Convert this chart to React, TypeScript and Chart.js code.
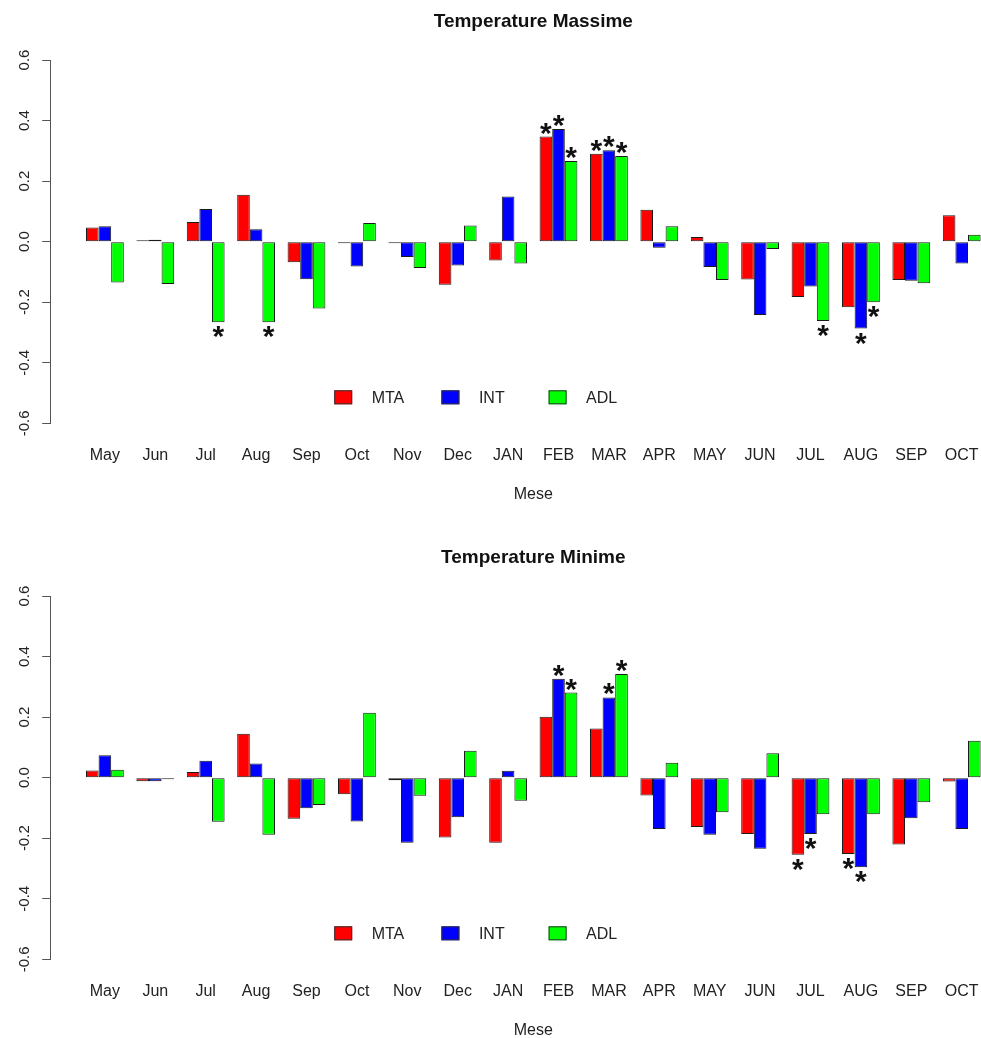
import React, { useEffect, useRef } from "react";
import { Chart, registerables } from "chart.js";

Chart.register(...registerables);

const FONT = '"Liberation Sans", Arial, Helvetica, sans-serif';

// ---------- data ----------
const months = ["May", "Jun", "Jul", "Aug", "Sep", "Oct", "Nov", "Dec", "JAN", "FEB", "MAR", "APR", "MAY", "JUN", "JUL", "AUG", "SEP", "OCT"];
const seriesNames = ["MTA", "INT", "ADL"];
const yTicks = [-0.6, -0.4, -0.2, 0.0, 0.2, 0.4, 0.6];

// Temperature Massime
const maxMTA = [0.047, 0.005, 0.065, 0.155, -0.068, -0.005, -0.005, -0.142, -0.062, 0.347, 0.290, 0.105, 0.015, -0.125, -0.183, -0.217, -0.127, 0.087];
const maxINT = [0.051, 0.006, 0.108, 0.041, -0.124, -0.082, -0.051, -0.079, 0.149, 0.372, 0.302, -0.020, -0.084, -0.242, -0.148, -0.287, -0.129, -0.072];
const maxADL = [-0.135, -0.140, -0.266, -0.266, -0.221, 0.062, -0.087, 0.053, -0.072, 0.266, 0.283, 0.051, -0.127, -0.024, -0.262, -0.200, -0.137, 0.023];
// significance markers (1 = "*")
const maxStarMTA = [0, 0, 0, 0, 0, 0, 0, 0, 0, 1, 1, 0, 0, 0, 0, 0, 0, 0];
const maxStarINT = [0, 0, 0, 0, 0, 0, 0, 0, 0, 1, 1, 0, 0, 0, 0, 1, 0, 0];
const maxStarADL = [0, 0, 1, 1, 0, 0, 0, 0, 0, 1, 1, 0, 0, 0, 1, 1, 0, 0];

// Temperature Minime
const minMTA = [0.024, -0.012, 0.019, 0.145, -0.136, -0.055, -0.009, -0.198, -0.215, 0.201, 0.162, -0.059, -0.163, -0.186, -0.255, -0.252, -0.221, -0.013];
const minINT = [0.074, -0.012, 0.056, 0.047, -0.101, -0.145, -0.215, -0.131, 0.023, 0.327, 0.265, -0.170, -0.189, -0.235, -0.186, -0.296, -0.134, -0.170];
const minADL = [0.026, -0.005, -0.146, -0.189, -0.090, 0.214, -0.060, 0.089, -0.076, 0.281, 0.342, 0.049, -0.114, 0.081, -0.121, -0.121, -0.081, 0.122];
const minStarMTA = [0, 0, 0, 0, 0, 0, 0, 0, 0, 0, 0, 0, 0, 0, 1, 1, 0, 0];
const minStarINT = [0, 0, 0, 0, 0, 0, 0, 0, 0, 1, 1, 0, 0, 0, 1, 1, 0, 0];
const minStarADL = [0, 0, 0, 0, 0, 0, 0, 0, 0, 1, 1, 0, 0, 0, 0, 0, 0, 0];

const colors = ["#ff0000", "#0000ff", "#00ff00"];

// ---------- plugins ----------
const starsPlugin = {
  id: "rStars",
  afterDatasetsDraw(chart: any) {
    const { ctx } = chart;
    const stars = chart.options.plugins.rStars.stars as number[][];
    ctx.save();
    ctx.font = `bold 30px ${FONT}`;
    ctx.fillStyle = "#111";
    ctx.textAlign = "center";
    ctx.textBaseline = "alphabetic";
    const m = ctx.measureText("*");
    const half = (m.actualBoundingBoxAscent - m.actualBoundingBoxDescent) / 2;
    chart.data.datasets.forEach((ds: any, i: number) => {
      const meta = chart.getDatasetMeta(i);
      meta.data.forEach((bar: any, j: number) => {
        if (!stars[i] || !stars[i][j]) return;
        const v = ds.data[j];
        const cy = v >= 0 ? bar.y - 8 : bar.y + 10;
        ctx.fillText("*", bar.x, cy + half);
      });
    });
    ctx.restore();
  },
};

const legendPlugin = {
  id: "rLegend",
  afterDatasetsDraw(chart: any) {
    const { ctx, chartArea } = chart;
    const cy = chartArea.bottom - 26;
    ctx.save();
    chart.data.datasets.forEach((ds: any, i: number) => {
      const bx = chartArea.left + 284 + i * 107.2;
      ctx.fillStyle = ds.backgroundColor;
      ctx.fillRect(bx, cy - 7, 18, 14);
      ctx.strokeStyle = "#333";
      ctx.lineWidth = 1;
      ctx.strokeRect(bx + 0.5, cy - 6.5, 17, 13);
      ctx.fillStyle = "#222";
      ctx.font = `16px ${FONT}`;
      ctx.textAlign = "left";
      ctx.textBaseline = "middle";
      ctx.fillText(ds.label, bx + 37.5, cy + 1);
    });
    ctx.restore();
  },
};

function makeConfig(title: string, series: number[][], stars: number[][]): any {
  return {
    type: "bar",
    data: {
      labels: months.map((_, i) => i),
      datasets: series.map((vals, i) => ({
        label: seriesNames[i],
        data: vals,
        backgroundColor: colors[i],
        borderColor: "#1a1a1a",
        borderWidth: 1,
        borderSkipped: false,
        categoryPercentage: 0.75,
        barPercentage: 1,
      })),
    },
    options: {
      responsive: false,
      animation: false,
      devicePixelRatio: 1,
      layout: { autoPadding: false, padding: { left: 10.2, right: 13.6, top: 0, bottom: 30.4 } },
      plugins: {
        legend: { display: false },
        tooltip: { enabled: false },
        title: {
          display: true,
          text: title,
          fullSize: false,
          color: "#111",
          font: { family: FONT, size: 19, weight: "bold" },
          padding: { top: 10.6, bottom: 26.6 },
        },
        rStars: { stars },
      },
      scales: {
        x: {
          type: "linear",
          offset: false,
          bounds: "data",
          min: -1.085,
          max: 18.085,
          afterBuildTicks: (axis: any) => {
            axis.ticks = months.map((_, i) => ({ value: i }));
          },
          afterFit: (axis: any) => {
            axis.height = 81.3;
            axis.paddingLeft = 0;
            axis.paddingRight = 0;
          },
          grid: { display: false, drawTicks: false },
          border: { display: false },
          ticks: {
            autoSkip: false,
            maxRotation: 0,
            minRotation: 0,
            padding: 23,
            color: "#222",
            font: { family: FONT, size: 16 },
            callback: (v: any) => months[Math.round(Number(v))] ?? "",
          },
          title: {
            display: true,
            text: "Mese",
            color: "#222",
            font: { family: FONT, size: 16 },
            padding: { top: 0, bottom: 0 },
          },
        },
        y: {
          min: -0.6,
          max: 0.6,
          afterBuildTicks: (axis: any) => {
            axis.ticks = yTicks.map((v) => ({ value: v }));
          },
          afterFit: (axis: any) => {
            axis.width = 40;
            axis.paddingTop = 0;
            axis.paddingBottom = 0;
          },
          grid: {
            display: true,
            drawOnChartArea: false,
            drawTicks: true,
            tickLength: 8,
            color: "#555",
            lineWidth: 1,
          },
          border: { display: true, color: "#555", width: 1 },
          ticks: {
            minRotation: 90,
            maxRotation: 90,
            crossAlign: "center",
            padding: 4.7,
            color: "#222",
            font: { family: FONT, size: 15 },
            callback: (v: any) => (Math.abs(Number(v)) < 1e-9 ? "0.0" : Number(v).toFixed(1)),
          },
        },
      },
    },
    plugins: [starsPlugin, legendPlugin],
  };
}

function BarPanel(props: { title: string; series: number[][]; stars: number[][]; top: number }) {
  const ref = useRef<HTMLCanvasElement | null>(null);
  useEffect(() => {
    if (!ref.current) return;
    const chart = new Chart(ref.current, makeConfig(props.title, props.series, props.stars));
    return () => chart.destroy();
  }, []);
  return (
    <canvas
      ref={ref}
      width={1030}
      height={535}
      style={{ position: "absolute", left: 0, top: props.top, width: 1030, height: 535 }}
    />
  );
}

export default function App() {
  return (
    <div
      style={{
        position: "absolute",
        left: 0,
        top: 0,
        width: 981,
        height: 1038,
        overflow: "hidden",
        background: "#ffffff",
      }}
    >
      <BarPanel title="Temperature Massime" series={[maxMTA, maxINT, maxADL]} stars={[maxStarMTA, maxStarINT, maxStarADL]} top={0} />
      <BarPanel title="Temperature Minime" series={[minMTA, minINT, minADL]} stars={[minStarMTA, minStarINT, minStarADL]} top={536} />
    </div>
  );
}
